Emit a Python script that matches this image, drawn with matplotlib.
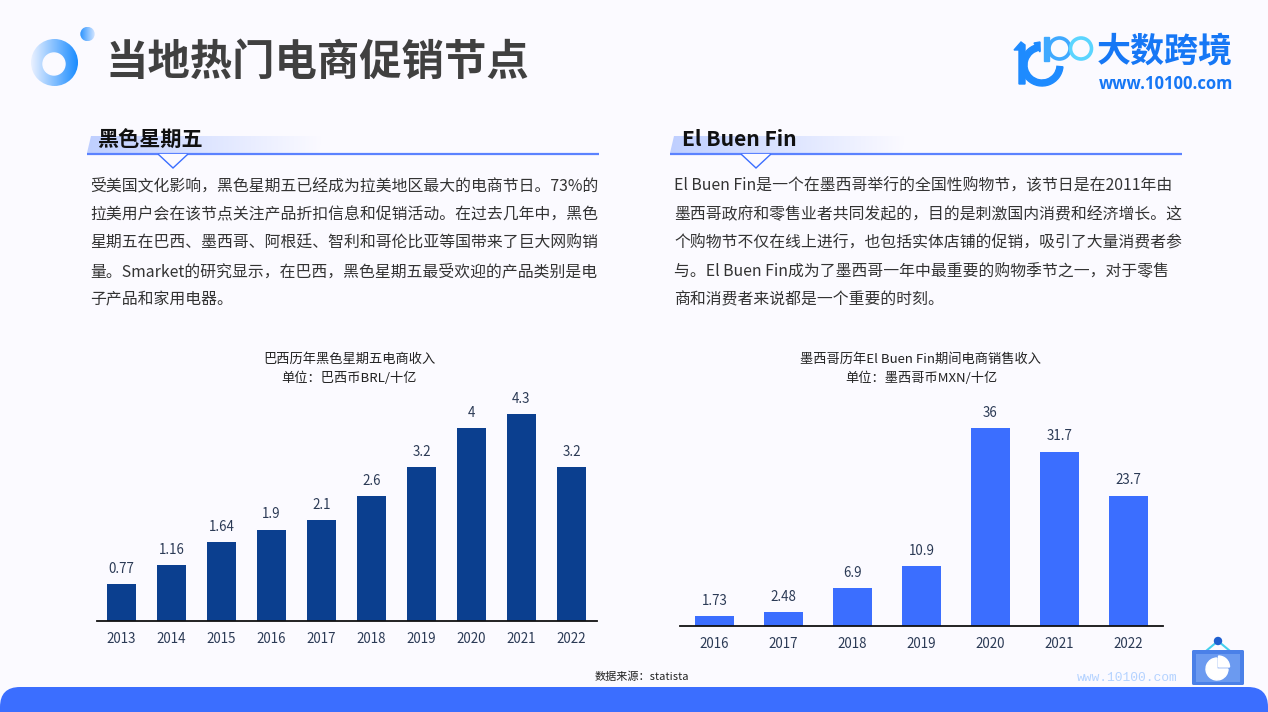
import numpy as np
import matplotlib
matplotlib.use("Agg")
import matplotlib.pyplot as plt
from matplotlib.patches import Circle, Polygon, Rectangle, FancyBboxPatch, Wedge

plt.rcParams['font.family'] = ['Noto Sans CJK SC', 'DejaVu Sans']

# data
brazil_years = ['2013', '2014', '2015', '2016', '2017', '2018', '2019', '2020', '2021', '2022']
brazil_values = [0.77, 1.16, 1.64, 1.9, 2.1, 2.6, 3.2, 4, 4.3, 3.2]
mexico_years = ['2016', '2017', '2018', '2019', '2020', '2021', '2022']
mexico_values = [1.73, 2.48, 6.9, 10.9, 36, 31.7, 23.7]

page_title = '当地热门电商促销节点'
left_heading = '黑色星期五'
right_heading = 'El Buen Fin'
left_lines = [
    '受美国文化影响，黑色星期五已经成为拉美地区最大的电商节日。73%的',
    '拉美用户会在该节点关注产品折扣信息和促销活动。在过去几年中，黑色',
    '星期五在巴西、墨西哥、阿根廷、智利和哥伦比亚等国带来了巨大网购销',
    '量。Smarket的研究显示，在巴西，黑色星期五最受欢迎的产品类别是电',
    '子产品和家用电器。',
]
right_lines = [
    'El Buen Fin是一个在墨西哥举行的全国性购物节，该节日是在2011年由',
    '墨西哥政府和零售业者共同发起的，目的是刺激国内消费和经济增长。这',
    '个购物节不仅在线上进行，也包括实体店铺的促销，吸引了大量消费者参',
    '与。El Buen Fin成为了墨西哥一年中最重要的购物季节之一，对于零售',
    '商和消费者来说都是一个重要的时刻。',
]
left_chart_title = ['巴西历年黑色星期五电商收入', '单位：巴西币BRL/十亿']
right_chart_title = ['墨西哥历年El Buen Fin期间电商销售收入', '单位：墨西哥币MXN/十亿']

W, H = 1268, 712
BG = '#FBFAFF'
BLUE = '#3B6EFF'
NAVY = '#0B3F8F'
LABEL = '#2B3A55'
BODY = '#333333'

fig = plt.figure(figsize=(W / 100, H / 100), dpi=100, facecolor=BG)

# page layer in pixel coordinates
page = fig.add_axes([0, 0, 1, 1], zorder=0)
page.axis('off')


def gradient(x0, x1, y0, y1, c0, c1, clip):
    c0 = np.array(matplotlib.colors.to_rgb(c0))
    c1 = np.array(matplotlib.colors.to_rgb(c1))
    t = np.linspace(0, 1, 128)[None, :, None]
    im = page.imshow(c0 + (c1 - c0) * t, extent=(x0, x1, y1, y0), aspect='auto', zorder=1)
    page.add_patch(clip)
    clip.set_visible(False)
    im.set_clip_path(clip)


# ring and dot next to the title
gradient(31, 78, 39, 86, '#EAF1FF', '#1A8CFF', Circle((54.5, 62.5), 23.5, transform=page.transData))
page.add_patch(Circle((54, 64), 11, color=BG, zorder=2))
gradient(80, 95, 27, 41, '#2A93FF', '#D4E6FF', Circle((87.5, 34), 7.2, transform=page.transData))

page.text(105.5, 63, page_title, fontsize=30.5, fontweight='bold', color='#404040', va='center', ha='left', zorder=3)

# logo
logo_blue = '#1E8BFF'
page.add_patch(Polygon([(1014, 50), (1021, 42), (1025, 45), (1025, 84), (1019, 84), (1019, 50)],
                       color=logo_blue, zorder=3))
page.add_patch(Wedge((1042, 65), 21, 5, 262, width=6, color=logo_blue, zorder=3))
page.add_patch(Polygon([(1034, 43), (1040, 42), (1040, 52)], color=logo_blue, zorder=3))
page.add_patch(Rectangle((1044, 37), 5, 24, color='#3FA9FF', zorder=4))
page.add_patch(Circle((1059.5, 48.5), 10.5, fill=False, ec='#3FA9FF', lw=2.6, zorder=4))
page.add_patch(Circle((1081, 48.5), 10.5, fill=False, ec='#5BD5FF', lw=2.6, zorder=4))
page.text(1097, 51, '大数跨境', fontsize=24.5, fontweight='bold', color='#1677F5', va='center', ha='left', zorder=3)
page.text(1099, 84, 'www.10100.com', fontsize=12, fontweight='bold', color='#1677F5', va='center', ha='left',
          family=['Open Sans', 'DejaVu Sans'], zorder=3)


def section(dx, heading, lines, heading_x, text_x):
    gradient(87 + dx, 322 + dx, 136, 153, '#BFCFFF', BG,
             Polygon([(91 + dx, 136), (322 + dx, 136), (318 + dx, 153), (87 + dx, 153)], transform=page.transData))
    page.plot([87 + dx, 599 + dx], [154, 154], color='#5B82FF', lw=1.6, zorder=3, solid_capstyle='butt')
    page.add_patch(Polygon([(158 + dx, 154), (173 + dx, 168), (188 + dx, 154)], closed=False,
                           fc=BG, ec=BLUE, lw=1.0, zorder=4))
    page.text(heading_x, 140, heading, fontsize=15.2, fontweight='bold', color='#111111',
              va='center', ha='left', zorder=5)
    for i, line in enumerate(lines):
        page.text(text_x, 186 + i * 28.6, line, fontsize=11.4, color=BODY,
                  va='center', ha='left', zorder=3)


section(0, left_heading, left_lines, 97, 90)
section(583, right_heading, right_lines, 682, 674)

# chart titles
for cx, title in ((349, left_chart_title), (921, right_chart_title)):
    for i, t in enumerate(title):
        page.text(cx, 359 + i * 19, t, fontsize=9.5, color='#222222', ha='center', va='center', zorder=3)

# footer
page.text(595, 677, '数据来源：statista', fontsize=8, color='#222222', va='center', ha='left', zorder=3)
page.text(1077, 678, 'www.10100.com', fontsize=9.4, color='#B5D3FF', va='center', ha='left',
          family=['Liberation Mono', 'DejaVu Sans'], zorder=3)
page.add_patch(FancyBboxPatch((0, 687), W, 80, boxstyle='round,pad=0,rounding_size=20',
                              fc=BLUE, ec='none', zorder=3))

# little chart icon
page.plot([1206, 1218, 1230], [651, 641, 651], color='#45D0EE', lw=1.5, zorder=3)
page.add_patch(Circle((1218, 641), 3.5, color='#1F5FD0', zorder=4))
page.add_patch(FancyBboxPatch((1192, 650), 52, 35, boxstyle='round,pad=0,rounding_size=1.5',
                              fc='#4A80E8', ec='none', zorder=3))
page.add_patch(Rectangle((1196, 654), 44, 28, fc='#6B9AF0', ec='none', zorder=4))
page.add_patch(Wedge((1217, 669), 11, 0, 270, color='white', zorder=5))
page.add_patch(Wedge((1218.5, 667), 11, 270, 360, color='white', zorder=5))

page.set_xlim(0, W)
page.set_ylim(H, 0)


def bar_chart(rect, years, values, color, ymax, width):
    x0, x1, y_base, y_top = rect
    ax = fig.add_axes([x0 / W, 1 - y_base / H, (x1 - x0) / W, (y_base - y_top) / H], zorder=2)
    ax.patch.set_alpha(0)
    pos = np.arange(len(years))
    bars = ax.bar(pos, values, width=width, color=color)
    ax.bar_label(bars, labels=[str(v) for v in values], padding=6, fontsize=9.6, color=LABEL)
    ax.set_xlim(-0.5, len(years) - 0.5)
    ax.set_ylim(0, ymax)
    ax.set_xticks(pos, years)
    ax.tick_params(axis='x', length=0, pad=8, labelsize=9.6, labelcolor=LABEL)
    ax.set_yticks([])
    for s in ('top', 'left', 'right'):
        ax.spines[s].set_visible(False)
    ax.spines['bottom'].set_linewidth(1.3)
    ax.spines['bottom'].set_color('#111111')
    return ax


bar_chart((96.5, 596.5, 621, 414), brazil_years, brazil_values, NAVY, 4.3, 0.58)
bar_chart((680, 1163, 626, 428), mexico_years, mexico_values, BLUE, 36, 0.57)

fig.savefig('out.png', dpi=100, facecolor=BG)
